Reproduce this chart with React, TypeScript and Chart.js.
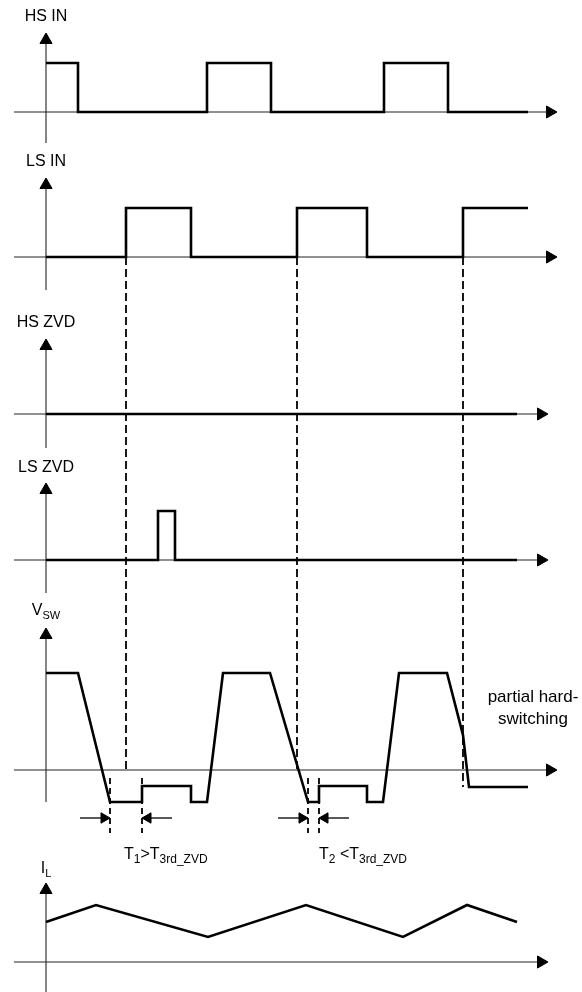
import React, { useEffect, useRef } from 'react';
import { Chart, registerables } from 'chart.js';

Chart.register(...registerables);

// ---- DATA (time axis: t = 0 at the vertical axes) ----
const HS_IN_T = [0, 32, 161, 225, 338, 402, 482];
const HS_IN_V = [1, 0, 1, 0, 1, 0, 0];

const LS_IN_T = [0, 80, 145, 251, 321, 417, 482];
const LS_IN_V = [0, 1, 0, 1, 0, 1, 1];

const HS_ZVD_T = [0, 471];
const HS_ZVD_V = [0, 0];

const LS_ZVD_T = [0, 112, 129, 471];
const LS_ZVD_V = [0, 1, 0, 0];

const VSW_T = [0, 32, 64, 96, 96, 145, 145, 161, 177, 224, 262, 273, 273, 321, 321, 337, 353, 401, 417, 423, 482];
const VSW_V = [1, 1, -0.33, -0.33, -0.165, -0.165, -0.33, -0.33, 1, 1, -0.33, -0.33, -0.165, -0.165, -0.33, -0.33, 1, 1, 0.36, -0.175, -0.175];

const IL_T = [0, 50, 162, 260, 357, 421, 471];
const IL_V = [0.7, 1, 0.44, 1, 0.44, 1, 0.7];

// dashed markers at LS IN rising edges, ending on V_SW
const MARK_T = [80, 251, 417];
const MARK_END_V = [0, 0, -0.175];

// dead-time measurements T1, T2
const MEAS_START = [64, 262];
const MEAS_END = [96, 273];
const MEAS_NAME = ['1', '2'];
const MEAS_REL = ['>', ' <'];
const MEAS_REF = '3rd_ZVD';

const SIDE_TEXT = ['partial hard-', 'switching'];

// ---- LAYOUT (pixels / scale units) ----
const W = 582;
const H = 992;
const X_ORIGIN = 46;
const AXIS_START = -32;
const R_AXIS = 7;
const R_MEAS = 6;
const FONT = '"Liberation Sans", Arial, sans-serif';

const PANELS = [
  { label: 'HS IN', sub: '', base: 112, amp: 49, top: 33, bottom: 143, tip: 511, labelY: 21 },
  { label: 'LS IN', sub: '', base: 257, amp: 49, top: 178, bottom: 290, tip: 511, labelY: 166 },
  { label: 'HS ZVD', sub: '', base: 414, amp: 49, top: 339, bottom: 448, tip: 502, labelY: 327 },
  { label: 'LS ZVD', sub: '', base: 560, amp: 49, top: 483, bottom: 593, tip: 502, labelY: 472 },
  { label: 'V', sub: 'SW', base: 770, amp: 97, top: 628, bottom: 802, tip: 511, labelY: 615 },
  { label: 'I', sub: 'L', base: 962, amp: 57, top: 883, bottom: 992, tip: 502, labelY: 873 },
];

const SERIES = [
  { t: HS_IN_T, v: HS_IN_V, stepped: true, panel: 0 },
  { t: LS_IN_T, v: LS_IN_V, stepped: true, panel: 1 },
  { t: HS_ZVD_T, v: HS_ZVD_V, stepped: true, panel: 2 },
  { t: LS_ZVD_T, v: LS_ZVD_V, stepped: true, panel: 3 },
  { t: VSW_T, v: VSW_V, stepped: false, panel: 4 },
  { t: IL_T, v: IL_V, stepped: false, panel: 5 },
];

const MEAS_Y = 818;
const MEAS_DASH_TOP = 778;
const MEAS_DASH_BOTTOM = 833;
const MEAS_ARROW_LEN = 30;
const MEAS_LABEL_X = [78, 273];
const MEAS_LABEL_Y = 859;
const SIDE_X = 487;
const SIDE_Y = [702, 724];

type Run = { text: string; size: number; dy?: number };

function drawRuns(ctx: CanvasRenderingContext2D, runs: Run[], x: number, y: number, center: boolean) {
  const widths = runs.map((r) => {
    ctx.font = `${r.size}px ${FONT}`;
    return ctx.measureText(r.text).width;
  });
  const total = widths.reduce((a, b) => a + b, 0);
  let cx = center ? x - total / 2 : x;
  runs.forEach((r, i) => {
    ctx.font = `${r.size}px ${FONT}`;
    ctx.fillText(r.text, cx, y + (r.dy || 0));
    cx += widths[i];
  });
}

const textPlugin = {
  id: 'diagramTexts',
  afterDatasetsDraw(chart: any) {
    const ctx: CanvasRenderingContext2D = chart.ctx;
    const xs = chart.scales.x;
    const ys = chart.scales.y;
    ctx.save();
    ctx.fillStyle = '#000';
    ctx.textBaseline = 'alphabetic';
    ctx.textAlign = 'left';
    PANELS.forEach((p) => {
      const runs: Run[] = [{ text: p.label, size: 16 }];
      if (p.sub) runs.push({ text: p.sub, size: 11, dy: 4 });
      drawRuns(ctx, runs, xs.getPixelForValue(0), ys.getPixelForValue(p.labelY), true);
    });
    MEAS_NAME.forEach((n, i) => {
      drawRuns(
        ctx,
        [
          { text: 'T', size: 16 },
          { text: n, size: 12, dy: 4 },
          { text: MEAS_REL[i], size: 16 },
          { text: 'T', size: 16 },
          { text: MEAS_REF, size: 12, dy: 4 },
        ],
        xs.getPixelForValue(MEAS_LABEL_X[i]),
        ys.getPixelForValue(MEAS_LABEL_Y),
        false
      );
    });
    SIDE_TEXT.forEach((s, i) => {
      drawRuns(ctx, [{ text: s, size: 17 }], xs.getPixelForValue(SIDE_X), ys.getPixelForValue(SIDE_Y[i]), true);
    });
    ctx.restore();
  },
};

function buildDatasets() {
  const ds: any[] = [];
  const base = {
    pointRadius: 0,
    pointHoverRadius: 0,
    tension: 0,
    fill: false,
    borderJoinStyle: 'miter',
    borderCapStyle: 'butt',
    clip: false,
  };
  // signals
  SERIES.forEach((s) => {
    const p = PANELS[s.panel];
    ds.push({
      ...base,
      data: s.t.map((t, i) => ({ x: t, y: p.base - s.v[i] * p.amp })),
      stepped: s.stepped,
      borderColor: '#000',
      borderWidth: 2.6,
      order: 0,
    });
  });
  // long dashed markers
  const lsPanel = PANELS[1];
  const vswPanel = PANELS[4];
  MARK_T.forEach((t, i) => {
    ds.push({
      ...base,
      data: [
        { x: t, y: lsPanel.base },
        { x: t, y: vswPanel.base - MARK_END_V[i] * vswPanel.amp },
      ],
      borderColor: '#000',
      borderWidth: 1.8,
      borderDash: [8, 4],
      order: 1,
    });
  });
  // measurement markers
  MEAS_START.forEach((ts, i) => {
    const te = MEAS_END[i];
    [ts, te].forEach((t) => {
      ds.push({
        ...base,
        data: [
          { x: t, y: MEAS_DASH_TOP },
          { x: t, y: MEAS_DASH_BOTTOM },
        ],
        borderColor: '#000',
        borderWidth: 1.8,
        borderDash: [6, 4],
        order: 1,
      });
    });
    ds.push({
      ...base,
      data: [
        { x: ts - MEAS_ARROW_LEN, y: MEAS_Y },
        { x: ts - R_MEAS, y: MEAS_Y },
      ],
      borderColor: '#000',
      borderWidth: 1.3,
      pointStyle: 'triangle',
      pointRadius: [0, R_MEAS],
      pointRotation: [0, 90],
      pointBackgroundColor: '#000',
      pointBorderColor: '#000',
      pointBorderWidth: 1,
      order: 1,
    });
    ds.push({
      ...base,
      data: [
        { x: te + MEAS_ARROW_LEN, y: MEAS_Y },
        { x: te + R_MEAS, y: MEAS_Y },
      ],
      borderColor: '#000',
      borderWidth: 1.3,
      pointStyle: 'triangle',
      pointRadius: [0, R_MEAS],
      pointRotation: [0, 270],
      pointBackgroundColor: '#000',
      pointBorderColor: '#000',
      pointBorderWidth: 1,
      order: 1,
    });
  });
  // axes
  PANELS.forEach((p) => {
    ds.push({
      ...base,
      data: [
        { x: AXIS_START, y: p.base },
        { x: p.tip - R_AXIS, y: p.base },
      ],
      borderColor: '#222',
      borderWidth: 1.1,
      pointStyle: 'triangle',
      pointRadius: [0, R_AXIS],
      pointRotation: [0, 90],
      pointBackgroundColor: '#000',
      pointBorderColor: '#000',
      pointBorderWidth: 1,
      order: 2,
    });
    ds.push({
      ...base,
      data: [
        { x: 0, y: p.bottom },
        { x: 0, y: p.top + R_AXIS },
      ],
      borderColor: '#222',
      borderWidth: 1.1,
      pointStyle: 'triangle',
      pointRadius: [0, R_AXIS],
      pointRotation: [0, 0],
      pointBackgroundColor: '#000',
      pointBorderColor: '#000',
      pointBorderWidth: 1,
      order: 2,
    });
  });
  return ds;
}

export default function App() {
  const ref = useRef<HTMLCanvasElement | null>(null);
  useEffect(() => {
    if (!ref.current) return;
    const chart = new Chart(ref.current, {
      type: 'line',
      data: { datasets: buildDatasets() },
      options: {
        responsive: false,
        animation: false,
        events: [],
        layout: { padding: 0, autoPadding: false },
        plugins: { legend: { display: false }, tooltip: { enabled: false }, title: { display: false } },
        scales: {
          x: { type: 'linear', min: -X_ORIGIN, max: W - X_ORIGIN, display: false },
          y: { type: 'linear', min: 0, max: H, reverse: true, display: false },
        },
      },
      plugins: [textPlugin],
    } as any);
    return () => chart.destroy();
  }, []);
  return (
    <div style={{ position: 'absolute', left: 0, top: 0, width: W, height: H, background: '#fff' }}>
      <canvas ref={ref} width={W} height={H} style={{ display: 'block', width: W, height: H }} />
    </div>
  );
}
